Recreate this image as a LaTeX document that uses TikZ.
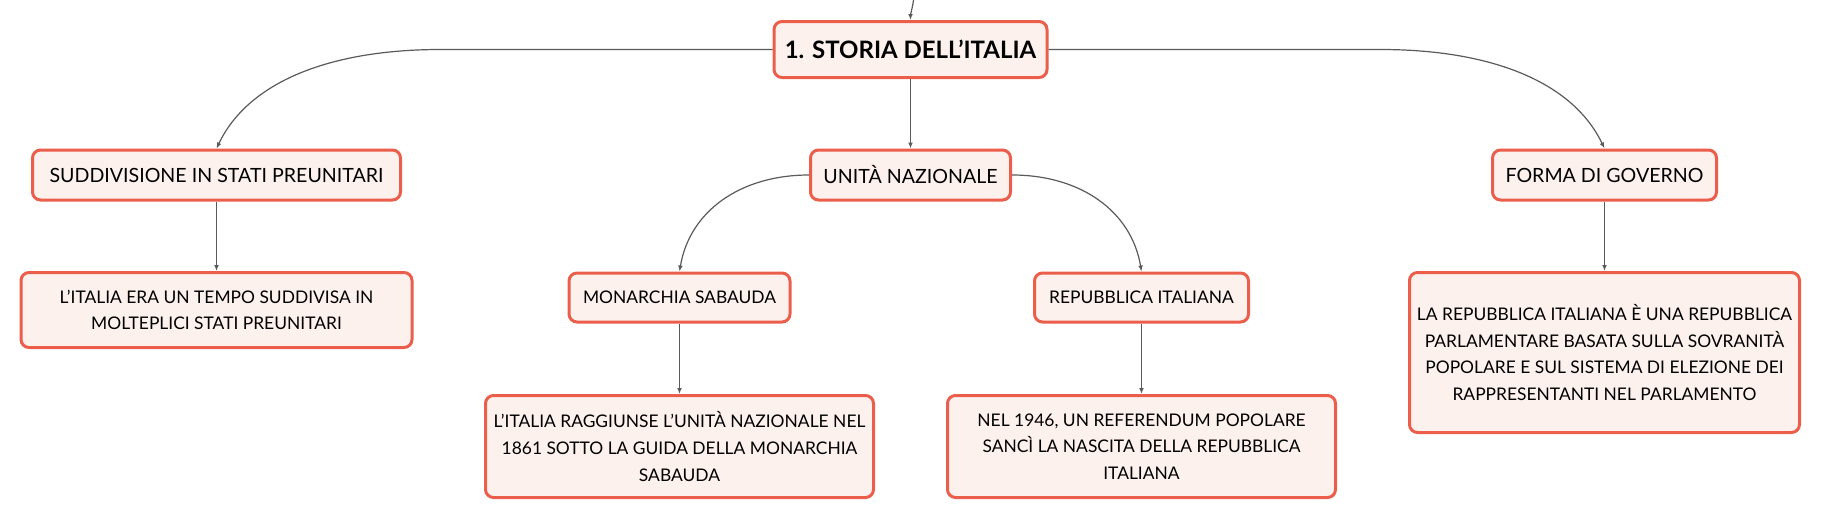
\documentclass[tikz,border=0pt]{standalone}
\usepackage{fontspec}
\setmainfont{Lato}
\usepackage{tikz}
\usetikzlibrary{arrows.meta}
\definecolor{boxline}{HTML}{EB5E4B}
\definecolor{boxfill}{HTML}{FDF1EE}
\definecolor{linkgray}{HTML}{5A5A5A}

\begin{document}
\begin{tikzpicture}[x=0.5pt,y=-0.5pt,topic/.style={shape=rectangle,draw=boxline,fill=boxfill,line width=1.5pt,rounded corners=4pt,inner sep=0pt,align=center,font=\fontsize{9.8}{13}\selectfont},topicT/.style={topic,font=\fontsize{12}{14}\selectfont\bfseries},topicD/.style={topic,font=\fontsize{8.7}{13.3}\selectfont},link/.style={draw=linkgray,line width=0.6pt,-{Latex[length=3pt,width=2.4pt]}}]
\def\ya{49.5};
\def\yb{175};
\def\yc{297.5};
\def\yd{446.5};

\useasboundingbox (0,0) rectangle (1821,520);

\node[topicT,minimum width=136.5pt,minimum height=28pt] (root) at (910.5,\ya) {1. STORIA DELL'ITALIA};
\coordinate (up) at (913.5,0);
\draw[link] (up) .. controls +(-1,8) and +(0,-6) .. (root.north);

\node[topic,minimum width=184pt,minimum height=25pt] (sudd) at (216.5,\yb) {SUDDIVISIONE IN STATI PREUNITARI};
\draw[link] (root.west) -- ++(-332,0) .. controls +(-110,0) and +(32,-67) .. (sudd.north);
\node[topic,minimum width=100pt,minimum height=25pt] (unita) at (910.5,\yb) {UNITÀ NAZIONALE};
\draw[link] (root.south) -- (unita.north);
\node[topic,minimum width=112pt,minimum height=25pt] (forma) at (1604.5,\yb) {FORMA DI GOVERNO};
\draw[link] (root.east) -- ++(332,0) .. controls +(110,0) and +(-32,-67) .. (forma.north);

\node[topicD,minimum width=195.5pt,minimum height=37.5pt] (suddD) at (216.5,310) {L'ITALIA ERA UN TEMPO SUDDIVISA IN\\MOLTEPLICI STATI PREUNITARI};
\draw[link] (sudd.south) -- (suddD.north);

\node[topicD,minimum width=110.5pt,minimum height=24.5pt] (mon) at (679.5,\yc) {MONARCHIA SABAUDA};
\draw[link] (unita.west) .. controls +(-69,0) and +(10,-60) .. (mon.north);
\node[topicD,minimum width=107pt,minimum height=24.5pt] (rep) at (1141.5,\yc) {REPUBBLICA ITALIANA};
\draw[link] (unita.east) .. controls +(69,0) and +(-10,-60) .. (rep.north);

\node[topicD,minimum width=194pt,minimum height=51pt] (monD) at (679.5,\yd) {L'ITALIA RAGGIUNSE L'UNITÀ NAZIONALE NEL\\1861 SOTTO LA GUIDA DELLA MONARCHIA\\SABAUDA};
\draw[link] (mon.south) -- (monD.north);
\node[topicD,minimum width=194pt,minimum height=51pt] (repD) at (1141.5,\yd) {NEL 1946, UN REFERENDUM POPOLARE\\SANCÌ LA NASCITA DELLA REPUBBLICA\\ITALIANA};
\draw[link] (rep.south) -- (repD.north);

\node[topicD,minimum width=195pt,minimum height=80pt] (formaD) at (1604.5,352.5) {LA REPUBBLICA ITALIANA È UNA REPUBBLICA\\PARLAMENTARE BASATA SULLA SOVRANITÀ\\POPOLARE E SUL SISTEMA DI ELEZIONE DEI\\RAPPRESENTANTI NEL PARLAMENTO};
\draw[link] (forma.south) -- (formaD.north);
\end{tikzpicture}
\end{document}
